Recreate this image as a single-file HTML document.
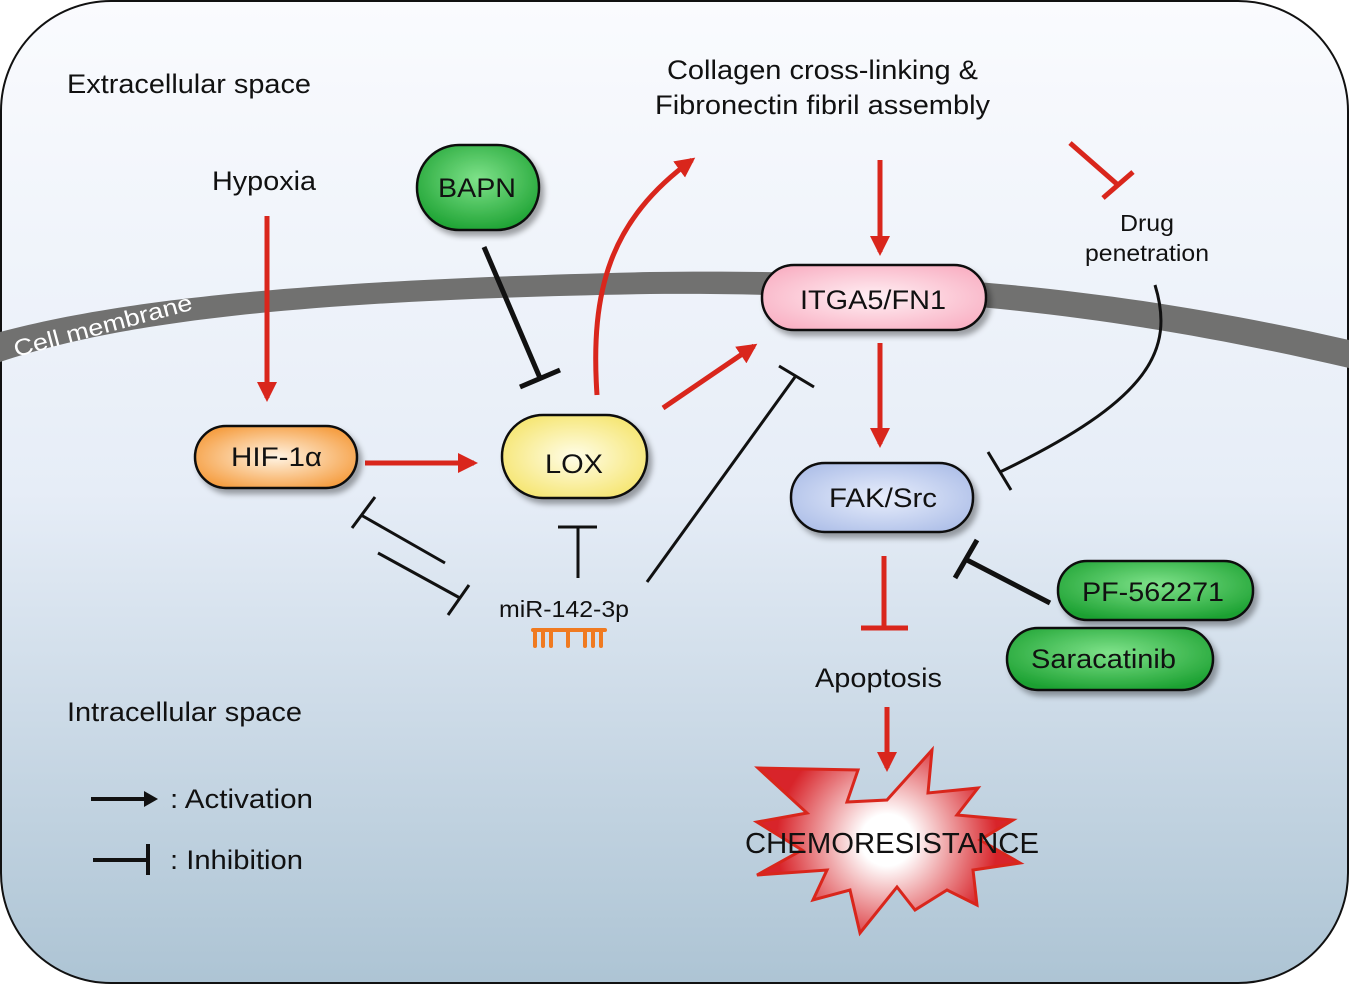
<!DOCTYPE html>
<html><head><meta charset="utf-8"><style>
html,body{margin:0;padding:0;background:#fff}
svg text{font-family:"Liberation Sans",sans-serif;fill:#111}
</style></head><body>
<svg width="1349" height="984" viewBox="0 0 1349 984" xmlns="http://www.w3.org/2000/svg">
<defs>
<linearGradient id="bg" x1="0" y1="0" x2="0" y2="1">
<stop offset="0" stop-color="#fafbfe"/><stop offset="0.5" stop-color="#e6edf7"/><stop offset="1" stop-color="#adc4d4"/></linearGradient>
<radialGradient id="gOr" cx="0.5" cy="0.5" r="0.6"><stop offset="0" stop-color="#fff4e4"/><stop offset="1" stop-color="#f59a3a"/></radialGradient>
<radialGradient id="gYe" cx="0.5" cy="0.5" r="0.6"><stop offset="0" stop-color="#fffde8"/><stop offset="1" stop-color="#f5e46a"/></radialGradient>
<radialGradient id="gGr" cx="0.5" cy="0.4" r="0.65"><stop offset="0" stop-color="#7fe28a"/><stop offset="1" stop-color="#1aa030"/></radialGradient>
<radialGradient id="gPk" cx="0.5" cy="0.5" r="0.6"><stop offset="0" stop-color="#fff0f4"/><stop offset="1" stop-color="#f9b1c4"/></radialGradient>
<radialGradient id="gBl" cx="0.5" cy="0.5" r="0.6"><stop offset="0" stop-color="#e8eefc"/><stop offset="1" stop-color="#aebfe8"/></radialGradient>
<radialGradient id="gSt" cx="887" cy="840" r="130" gradientUnits="userSpaceOnUse"><stop offset="0.2" stop-color="#fff"/><stop offset="0.85" stop-color="#d8242a"/></radialGradient>
<marker id="ar" viewBox="0 0 10 10" refX="8" refY="5" markerWidth="4" markerHeight="4" orient="auto"><path d="M0,0L10,5L0,10z" fill="#d9261c"/></marker>
<filter id="sh" x="-20%" y="-20%" width="150%" height="160%"><feDropShadow dx="4" dy="5" stdDeviation="3" flood-opacity="0.35"/></filter>
</defs>
<rect x="1" y="1" width="1347" height="982" rx="110" fill="url(#bg)" stroke="#111" stroke-width="2"/>
<path d="M0,332 C120,300 300,280 650,272 C950,268 1150,295 1349,340 L1349,368 C1150,322 950,292 650,294 C300,300 120,322 0,362 Z" fill="#717170"/>
<text x="16" y="357" font-size="23" style="fill:#fff" transform="rotate(-15 16 357)" textLength="184" lengthAdjust="spacingAndGlyphs">Cell membrane</text>

<g font-size="27">
<text x="67" y="93" textLength="244" lengthAdjust="spacingAndGlyphs">Extracellular space</text>
<text x="67" y="721" textLength="235" lengthAdjust="spacingAndGlyphs">Intracellular space</text>
<text x="212" y="190" textLength="104" lengthAdjust="spacingAndGlyphs">Hypoxia</text>
<text x="667" y="79" textLength="311" lengthAdjust="spacingAndGlyphs">Collagen cross-linking &amp;</text>
<text x="655" y="114" textLength="335" lengthAdjust="spacingAndGlyphs">Fibronectin fibril assembly</text>
<text x="815" y="687" textLength="127" lengthAdjust="spacingAndGlyphs">Apoptosis</text>
<text x="170" y="808" textLength="143" lengthAdjust="spacingAndGlyphs">: Activation</text>
<text x="170" y="869" textLength="133" lengthAdjust="spacingAndGlyphs">: Inhibition</text>
</g>
<text x="1120" y="231" font-size="23" textLength="54" lengthAdjust="spacingAndGlyphs">Drug</text>
<text x="1085" y="261" font-size="23" textLength="124" lengthAdjust="spacingAndGlyphs">penetration</text>
<text x="499" y="617" font-size="23" textLength="130" lengthAdjust="spacingAndGlyphs">miR-142-3p</text>
<g fill="#f07a20">
<rect x="531" y="628" width="76" height="4" rx="2"/>
<rect x="533" y="628" width="4" height="20" rx="2"/><rect x="541" y="628" width="4" height="20" rx="2"/><rect x="549" y="628" width="4" height="20" rx="2"/>
<rect x="566" y="628" width="4" height="20" rx="2"/><rect x="583" y="628" width="4" height="20" rx="2"/><rect x="591" y="628" width="4" height="20" rx="2"/><rect x="599" y="628" width="4" height="20" rx="2"/>
</g>

<polygon points="758,768 858,770 847,802 887,800 932,750 928,793 978,788 957,815 1013,820 980,840 1020,863 973,870 977,905 947,890 915,910 897,887 860,933 850,890 813,900 827,870 757,875 802,850 757,822 807,813 758,768" fill="url(#gSt)" stroke="#d9261c" stroke-width="3"/>
<text x="745" y="853" font-size="29" textLength="294" lengthAdjust="spacingAndGlyphs">CHEMORESISTANCE</text>

<g stroke="#d9261c" stroke-width="5" fill="none">
<line x1="267" y1="216" x2="267" y2="398" marker-end="url(#ar)"/>
<line x1="365" y1="463" x2="474" y2="463" marker-end="url(#ar)"/>
<path d="M597,395 C590,290 610,220 692,160" marker-end="url(#ar)"/>
<line x1="663" y1="408" x2="754" y2="346" marker-end="url(#ar)"/>
<line x1="880" y1="160" x2="880" y2="252" marker-end="url(#ar)"/>
<line x1="880" y1="343" x2="880" y2="444" marker-end="url(#ar)"/>
<line x1="887" y1="707" x2="887" y2="768" marker-end="url(#ar)"/>
<line x1="884" y1="556" x2="884" y2="628"/><line x1="861" y1="628" x2="908" y2="628"/>
<line x1="1070" y1="143" x2="1118" y2="185"/><line x1="1103" y1="198" x2="1133" y2="172"/>
</g>
<g stroke="#111" fill="none">
<g stroke-width="5"><line x1="484" y1="247" x2="540" y2="378"/><line x1="520" y1="387" x2="560" y2="370"/>
<line x1="1050" y1="603" x2="967" y2="560"/><line x1="955" y1="578" x2="977" y2="540"/></g>
<g stroke-width="3">
<line x1="578" y1="578" x2="578" y2="527"/><line x1="558" y1="527" x2="597" y2="527"/>
<line x1="647" y1="582" x2="795" y2="377"/><line x1="779" y1="366" x2="814" y2="387"/>
<line x1="445" y1="563" x2="361" y2="515"/><line x1="352" y1="528" x2="375" y2="497"/>
<line x1="378" y1="553" x2="460" y2="598"/><line x1="448" y1="615" x2="469" y2="585"/>
<path d="M1155,285 C1175,350 1150,400 1000,472"/><line x1="988" y1="452" x2="1011" y2="490"/>
</g>
<line x1="91" y1="799" x2="150" y2="799" stroke-width="4"/>
<line x1="93" y1="860" x2="148" y2="860" stroke-width="4"/><line x1="148" y1="844" x2="148" y2="875" stroke-width="4"/>
</g>
<polygon points="144,791 158,799 144,807" fill="#111"/>

<g stroke="#111" stroke-width="2.5" filter="url(#sh)">
<rect x="195" y="426" width="162" height="62" rx="31" fill="url(#gOr)"/>
<rect x="502" y="415" width="145" height="83" rx="41" fill="url(#gYe)"/>
<rect x="417" y="145" width="122" height="85" rx="42" fill="url(#gGr)"/>
<rect x="762" y="265" width="224" height="65" rx="32" fill="url(#gPk)"/>
<rect x="791" y="463" width="182" height="69" rx="34" fill="url(#gBl)"/>
<rect x="1058" y="561" width="195" height="59" rx="29" fill="url(#gGr)"/>
<rect x="1007" y="628" width="206" height="62" rx="31" fill="url(#gGr)"/>
</g>
<g font-size="27">
<text x="231" y="466" textLength="91" lengthAdjust="spacingAndGlyphs">HIF-1α</text>
<text x="545" y="473" textLength="58" lengthAdjust="spacingAndGlyphs">LOX</text>
<text x="438" y="197" textLength="78" lengthAdjust="spacingAndGlyphs">BAPN</text>
<text x="800" y="309" textLength="146" lengthAdjust="spacingAndGlyphs">ITGA5/FN1</text>
<text x="829" y="507" textLength="108" lengthAdjust="spacingAndGlyphs">FAK/Src</text>
<text x="1082" y="601" textLength="142" lengthAdjust="spacingAndGlyphs">PF-562271</text>
<text x="1031" y="668" textLength="145" lengthAdjust="spacingAndGlyphs">Saracatinib</text>
</g>
</svg>
</body></html>
